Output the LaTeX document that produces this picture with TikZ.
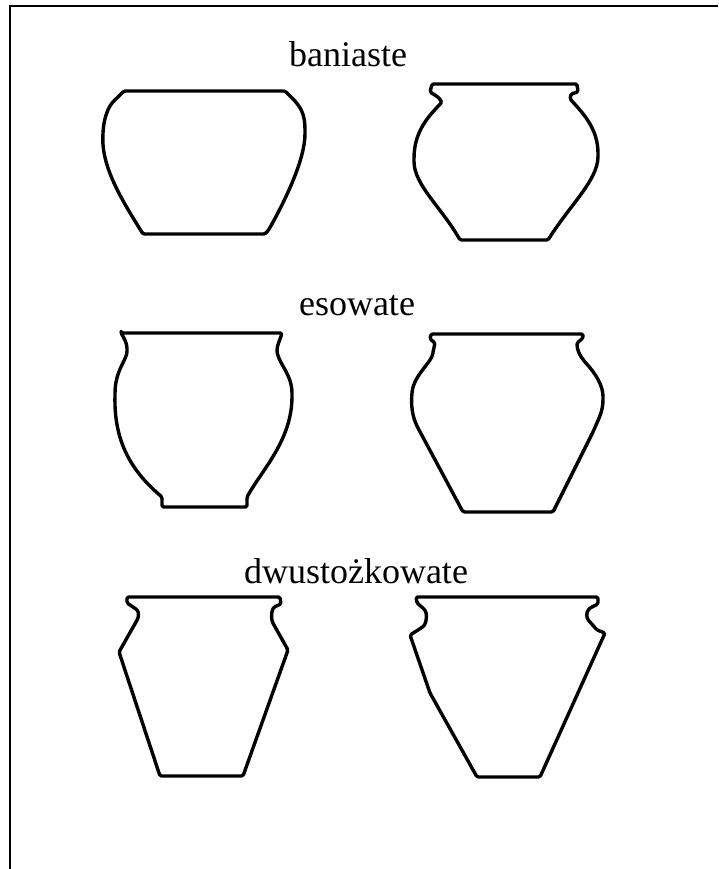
\documentclass[tikz,border=0pt]{standalone}
\usepackage{fontspec}
\setmainfont{Liberation Serif}
\begin{document}
\begin{tikzpicture}[x=1pt,y=-1pt,
  pot/.style={line width=3.4pt,line join=round,rounded corners=1.5pt},
  frameline/.style={line width=2.2pt},
  label/.style={anchor=base,inner sep=0pt,font=\fontsize{36}{42}\selectfont}]
\useasboundingbox (0,0) rectangle (718,869);
\fill[white] (0,0) rectangle (718,869);
% page frame (left and top edges)
\draw[frameline] (10,869) -- (10,6) -- (718,6);

% group labels
\node[label] (lab1) at (348,67) {baniaste};
\node[label] (lab2) at (357,315) {esowate};
\node[label] (lab3) at (356,583) {dwustożkowate};

% baniaste, left
\draw[pot] (124,91) -- (285,91) -- (294,100)
  .. controls (303,110) and (305,118) .. (305,132)
  .. controls (305,160) and (285,200) .. (272,224)
  .. controls (268,231) and (266,234) .. (262,234)
  -- (143,234)
  .. controls (125,205) and (106,175) .. (103,145)
  .. controls (102,120) and (108,106) .. (116,99) -- cycle;

% baniaste, right
\draw[pot] (432,84) -- (577,84) -- (578,92) -- (571,94) -- (570,99)
  .. controls (585,115) and (598,130) .. (598,155)
  .. controls (598,180) and (570,205) .. (548,240)
  -- (460,240)
  .. controls (442,208) and (414,185) .. (414,160)
  .. controls (414,130) and (430,115) .. (442,102)
  -- (438,97) -- (430,92) -- cycle;

% esowate, left
\draw[pot] (121,333) -- (282,333)
  .. controls (280,340) and (277,345) .. (277,352)
  .. controls (280,365) and (292,375) .. (292,395)
  .. controls (292,440) and (262,470) .. (247,497)
  -- (247,507) -- (162,507) -- (162,497)
  .. controls (130,470) and (114,440) .. (115,395)
  .. controls (115,370) and (127,360) .. (127,350)
  .. controls (127,343) and (124,338) .. (121,333) -- cycle;

% esowate, right
\draw[pot] (431,334) -- (583,334) -- (583,338) -- (577,343)
  .. controls (577,350) and (580,356) .. (585,362)
  .. controls (595,373) and (603,385) .. (603,398)
  .. controls (603,412) and (598,420) .. (593,432)
  -- (553,512) -- (463,512) -- (418,428)
  .. controls (412,416) and (411,405) .. (412,393)
  .. controls (414,375) and (432,362) .. (433,352)
  -- (435,343) -- (430,339) -- cycle;

% dwustozkowate, left
\draw[pot] (127,597) -- (280,597) -- (281,604) -- (274,607)
  .. controls (271,612) and (271,620) .. (274,625)
  -- (288,650) -- (243,776) -- (160,776) -- (119,652) -- (136,622)
  .. controls (139,617) and (139,612) .. (136,609)
  -- (127,603) -- cycle;

% dwustozkowate, right
\draw[pot] (416,597) -- (598,597) -- (598,604) -- (590,608)
  .. controls (586,612) and (586,618) .. (590,622)
  -- (597,630) -- (605,633) -- (540,777) -- (477,777) -- (430,693)
  -- (410,635) -- (418,630) -- (424,626)
  .. controls (427,620) and (427,613) .. (424,609)
  -- (417,603) -- cycle;
\end{tikzpicture}
\end{document}
